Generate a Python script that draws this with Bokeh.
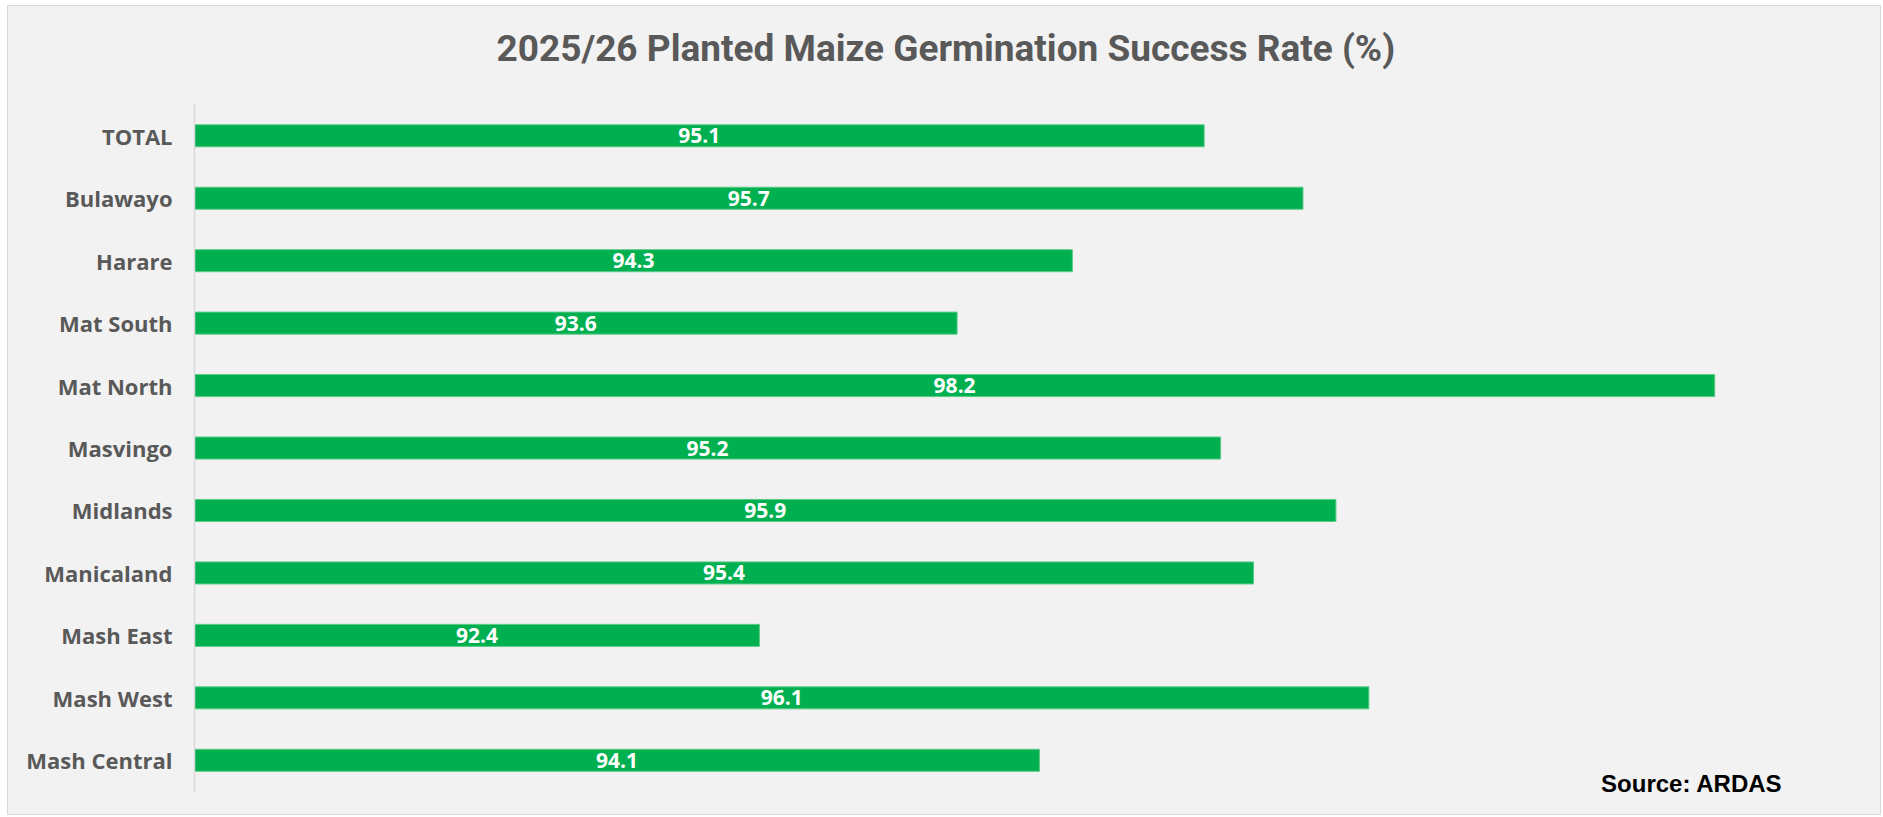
from bokeh.plotting import figure
from bokeh.models import ColumnDataSource, Label, Range1d, FixedTicker
from bokeh.core.properties import value
from bokeh.embed import file_html
from bokeh.resources import INLINE

regions = ["TOTAL", "Bulawayo", "Harare", "Mat South", "Mat North", "Masvingo",
           "Midlands", "Manicaland", "Mash East", "Mash West", "Mash Central"]
rates = [95.1, 95.7, 94.3, 93.6, 98.2, 95.2, 95.9, 95.4, 92.4, 96.1, 94.1]
labels = ["95.1", "95.7", "94.3", "93.6", "98.2", "95.2", "95.9", "95.4", "92.4", "96.1", "94.1"]
title_text = "2025/26 Planted Maize Germination Success Rate (%)"
source_text = "Source: ARDAS"

x_min, x_max = 88.97, 99
n = len(regions)
ypos = [n - 1 - i for i in range(n)]  # TOTAL at top

src = ColumnDataSource(dict(
    y=ypos,
    rate=rates,
    left=[x_min] * n,
    mid=[(x_min + r) / 2 for r in rates],
    label=labels,
))

p = figure(
    width=1874, height=810,
    y_range=Range1d(-0.90, 12.07),
    x_range=Range1d(x_min, x_max),
    output_backend="svg", toolbar_location=None,
    min_border_left=186, min_border_right=36, min_border_top=0, min_border_bottom=0,
    background_fill_color="#F2F2F2", border_fill_color="#F2F2F2",
    outline_line_color=None,
)
p.styles = {"margin-left": "7px", "margin-top": "5px",
            "border": "1px solid #D9D9D9", "background-color": "#F2F2F2"}

p.hbar(y="y", left="left", right="rate", height=0.353, source=src,
       fill_color="#00B050", line_color="#5CCB85", line_width=1)

p.text(x="mid", y="y", text="label", source=src,
       text_align="center", text_baseline="middle",
       text_color="white", text_font=value("Open Sans"),
       text_font_style="bold", text_font_size="21px")

p.xaxis.visible = False
p.xgrid.visible = False
p.ygrid.visible = False

ax = p.yaxis[0]
ax.ticker = FixedTicker(ticks=ypos)
ax.major_label_overrides = {y: name for y, name in zip(ypos, regions)}
ax.bounds = (-0.5, n - 0.5)
ax.axis_line_color = "#D9D9D9"
ax.axis_line_width = 1.5
ax.major_tick_line_color = None
ax.minor_tick_line_color = None
ax.major_label_standoff = 16
ax.major_label_text_font = "Open Sans"
ax.major_label_text_font_style = "bold"
ax.major_label_text_font_size = "22px"
ax.major_label_text_color = "#595959"

p.add_layout(Label(x=302, y=768, x_units="screen", y_units="screen",
                   text=title_text, text_align="left", text_baseline="middle",
                   text_font="Roboto", text_font_style="bold",
                   text_font_size="37px", text_color="#595959"))

p.add_layout(Label(x=97.51, y=-0.37, text=source_text, text_align="left",
                   text_baseline="middle", text_font="Liberation Sans",
                   text_font_style="bold", text_font_size="24px",
                   text_color="#000000"))

open("out.html", "w").write(file_html(p, INLINE))
